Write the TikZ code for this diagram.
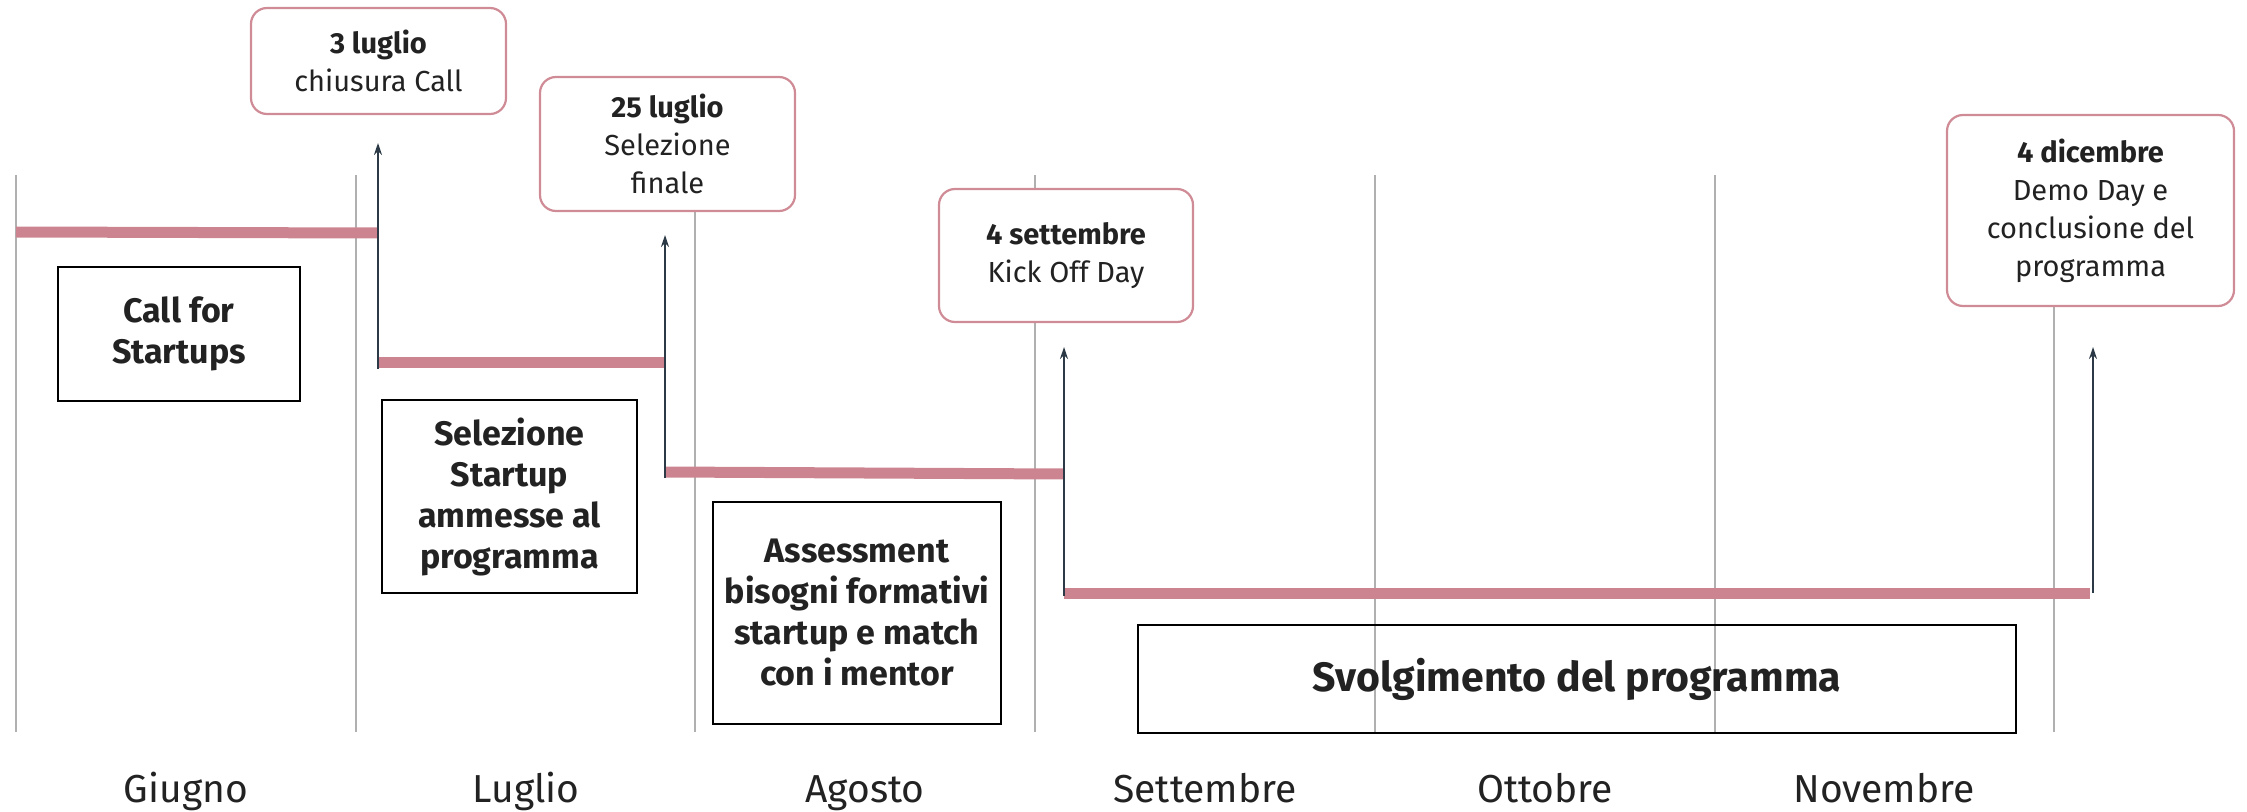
\documentclass[tikz,border=0pt]{standalone}
\usepackage{fontspec}
\setmainfont{Fira Sans}
\usetikzlibrary{arrows.meta}
\definecolor{barc}{HTML}{CC8590}
\definecolor{boxc}{HTML}{D08C96}
\definecolor{gridc}{HTML}{B0B0B0}
\definecolor{arrc}{HTML}{2B3A46}
\definecolor{txt}{HTML}{222222}
\begin{document}
\begin{tikzpicture}[x=0.5pt,y=-0.5pt,
  gridline/.style={draw=gridc,line width=0.9pt},
  bar/.style={draw=barc,line width=5.5pt},
  uparrow/.style={draw=arrc,line width=1pt,-{Stealth[length=6pt,width=4pt]}},
  pinkbox/.style={draw=boxc,line width=1.1pt,rounded corners=8pt,fill=white,align=center,inner sep=0pt,text=txt,font=\fontsize{14.5}{19}\selectfont},
  blackbox/.style={draw=black,line width=1.2pt,align=center,inner sep=0pt,text=txt,font=\bfseries\fontsize{17}{20.5}\selectfont},
  month/.style={anchor=base,text=txt,font=\fontsize{19.5}{23}\selectfont,inner sep=0pt}]
\useasboundingbox (0,0) rectangle (2247,812);
% grid
\foreach \gx in {16,356,695,1035,1375,1715,2054}{
  \draw[gridline] (\gx,175) -- (\gx,732);
}
% bar coordinates
\coordinate (b1s) at (16,232);  \coordinate (b1e) at (378,233);
\coordinate (b2s) at (378,363); \coordinate (b2e) at (665,363);
\coordinate (b3s) at (665,472); \coordinate (b3e) at (1064,474);
\coordinate (b4s) at (1064,593); \coordinate (b4e) at (2090,593);
% arrow coordinates
\coordinate (a1) at (378,369); \coordinate (t1) at (378,143);
\coordinate (a2) at (665,478); \coordinate (t2) at (665,235);
\coordinate (a3) at (1064,596); \coordinate (t3) at (1064,347);
\coordinate (a4) at (2093,593); \coordinate (t4) at (2093,347);
% bars
\draw[bar] (b1s) -- (b1e);
\draw[bar] (b2s) -- (b2e);
\draw[bar] (b3s) -- (b3e);
\draw[bar] (b4s) -- (b4e);
% arrows
\draw[uparrow] (a1) -- (t1);
\draw[uparrow] (a2) -- (t2);
\draw[uparrow] (a3) -- (t3);
\draw[uparrow] (a4) -- (t4);
% pink milestone boxes
\node[pinkbox,minimum width=127.5pt,minimum height=53pt] (p1) at (378.5,61) {\textbf{3 luglio}\\chiusura Call};
\node[pinkbox,minimum width=127.5pt,minimum height=67pt] (p2) at (667.5,144) {\textbf{25 luglio}\\Selezione\\finale};
\node[pinkbox,minimum width=127pt,minimum height=66.5pt] (p3) at (1066,255.5) {\textbf{4 settembre}\\Kick Off Day};
\node[pinkbox,minimum width=143.5pt,minimum height=95.5pt] (p4) at (2090.5,210.5) {\textbf{4 dicembre}\\Demo Day e\\conclusione del\\programma};
% black phase boxes
\node[blackbox,minimum width=121pt,minimum height=67pt] (c1) at (179,334) {Call for\\Startups};
\node[blackbox,minimum width=127.5pt,minimum height=96.5pt] (c2) at (509.5,496.5) {Selezione\\Startup\\ammesse al\\programma};
\node[blackbox,minimum width=144pt,minimum height=111pt] (c3) at (857,613) {Assessment\\bisogni formativi\\startup e match\\con i mentor};
\node[blackbox,minimum width=439pt,minimum height=54pt,font=\bfseries\fontsize{20.5}{25}\selectfont] (c4) at (1577,679) {Svolgimento del programma};
% months
\node[month] (m1) at (186,802) {Giugno};
\node[month] (m2) at (526,802) {Luglio};
\node[month] (m3) at (865,802) {Agosto};
\node[month] (m4) at (1205,802) {Settembre};
\node[month] (m5) at (1545,802) {Ottobre};
\node[month] (m6) at (1884,802) {Novembre};
\end{tikzpicture}
\end{document}
